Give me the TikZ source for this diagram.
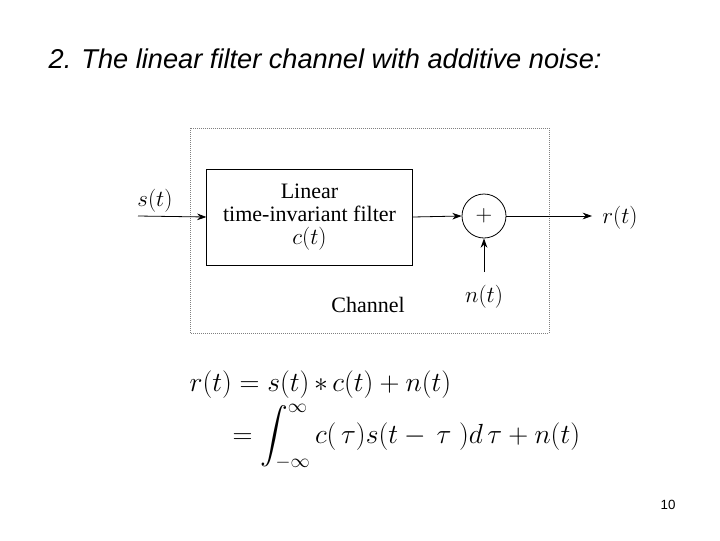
\documentclass[tikz,border=0pt]{standalone}
\usepackage{exscale}
\usepackage{amsmath}
\usepackage{fontspec}
\setmainfont{Liberation Serif}
\newfontfamily\sansf{Liberation Sans}
\usetikzlibrary{arrows.meta}
\begin{document}
\begin{tikzpicture}[x=0.75pt,y=-0.75pt,
  arr/.style={-{Stealth[length=7pt,width=5pt]},line width=0.6pt},
  lbl/.style={font=\fontsize{16.5}{18}\selectfont}]
\useasboundingbox (0,0) rectangle (720,540);
\node[anchor=base west,font=\sansf\itshape\fontsize{20.4}{24}\selectfont] (title) at (44,68) {2. The linear filter channel with additive noise:};
\draw[densely dotted,gray,line width=0.5pt] (190,128) rectangle (549,333);
\node[draw,line width=0.6pt,minimum width=154pt,minimum height=72pt,align=center,lbl,inner sep=0pt] (filt) at (309.5,217) {Linear\\[-1pt] time-invariant filter\\[-1pt] $c(t)$};
\node[draw,circle,line width=0.6pt,minimum size=33pt,inner sep=0pt,lbl] (sum) at (484,216) {$+$};
\node[lbl] (s) at (155,201) {$s(t)$};
\coordinate (sin) at (138,216);
\node[lbl] (r) at (620,218) {$r(t)$};
\coordinate (rout) at (592,216);
\node[lbl] (n) at (484,297) {$n(t)$};
\coordinate (nin) at (484,272);
\node[lbl] (ch) at (368,305) {Channel};
\draw[arr] (sin) -- (filt.west);
\draw[arr] (filt.east) -- (sum.west);
\draw[arr] (sum.east) -- (rout);
\draw[arr] (nin) -- (sum.south);
\node[anchor=west,font=\fontsize{20.3}{24}\selectfont] (eq1) at (185,385) {$r(t)=s(t)\,{*}\,c(t)+n(t)$};
\node[anchor=west,font=\fontsize{20.3}{24}\selectfont] (eq2) at (228,437) {$\displaystyle =\int_{-\infty}^{\infty} c(\,\tau)s(t-\,\tau\;)d\,\tau+n(t)$};
\node[font=\sansf\fontsize{10}{12}\selectfont] (pg) at (668,505) {10};
\end{tikzpicture}
\end{document}
